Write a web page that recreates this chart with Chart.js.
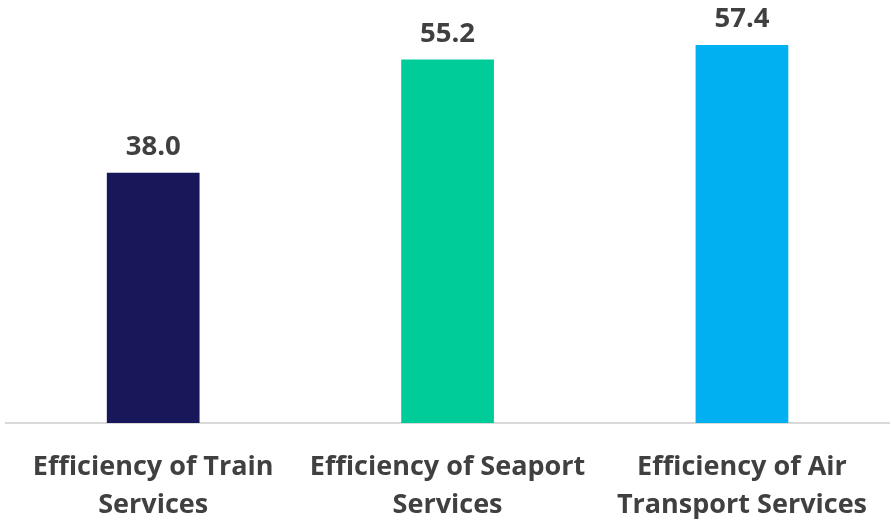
<!DOCTYPE html>
<html>
<head>
<meta charset="utf-8">
<script src="https://cdn.jsdelivr.net/npm/chart.js@4/dist/chart.umd.min.js"></script>
<style>
	html, body { margin: 0; padding: 0; background: #fff; }
	#wrap { width: 892px; height: 524px; }
</style>
</head>
<body>
<div id="wrap"><canvas id="main-chart"></canvas></div>
<script>
// data
const categories = [
	['Efficiency of Train', 'Services'],
	['Efficiency of Seaport', 'Services'],
	['Efficiency of Air', 'Transport Services']
];
const values = [38.0, 55.2, 57.4];
const barColors = ['#171759', '#00cc99', '#00b0f0'];

const textColor = '#404040';
const fontFamily = '"Open Sans", "Noto Sans", sans-serif';

// value labels above each bar
const valueLabels = {
	id: 'valueLabels',
	afterDatasetsDraw(chart) {
		const ctx = chart.ctx;
		const meta = chart.getDatasetMeta(0);
		ctx.save();
		ctx.font = 'bold 27.5px ' + fontFamily;
		ctx.fillStyle = textColor;
		ctx.textAlign = 'center';
		ctx.textBaseline = 'alphabetic';
		meta.data.forEach((bar, i) => {
			ctx.fillText(values[i].toFixed(1), bar.x, bar.y - 18);
		});
		ctx.restore();
	}
};

const ctx = document.getElementById('main-chart');
new Chart(ctx, {
	type: 'bar',
	data: {
		labels: categories,
		datasets: [{
			data: values,
			backgroundColor: barColors,
			borderWidth: 0,
			categoryPercentage: 1,
			barPercentage: 0.315
		}]
	},
	options: {
		responsive: true,
		maintainAspectRatio: false,
		animation: false,
		layout: { padding: { top: 28, left: 6, right: 0, bottom: 0 } },
		plugins: {
			legend: { display: false },
			tooltip: { enabled: false }
		},
		scales: {
			x: {
				grid: { display: true, drawOnChartArea: false, drawTicks: false },
				border: { color: '#d9d9d9', width: 2 },
				ticks: {
					color: textColor,
					padding: 25,
					maxRotation: 0,
					autoSkip: false,
					font: { family: fontFamily, size: 27, weight: 'bold', lineHeight: 1.42 }
				},
				afterFit(scale) { scale.height = 101; }
			},
			y: {
				display: false,
				min: 0,
				max: 60
			}
		}
	},
	plugins: [valueLabels]
});
</script>
</body>
</html>
